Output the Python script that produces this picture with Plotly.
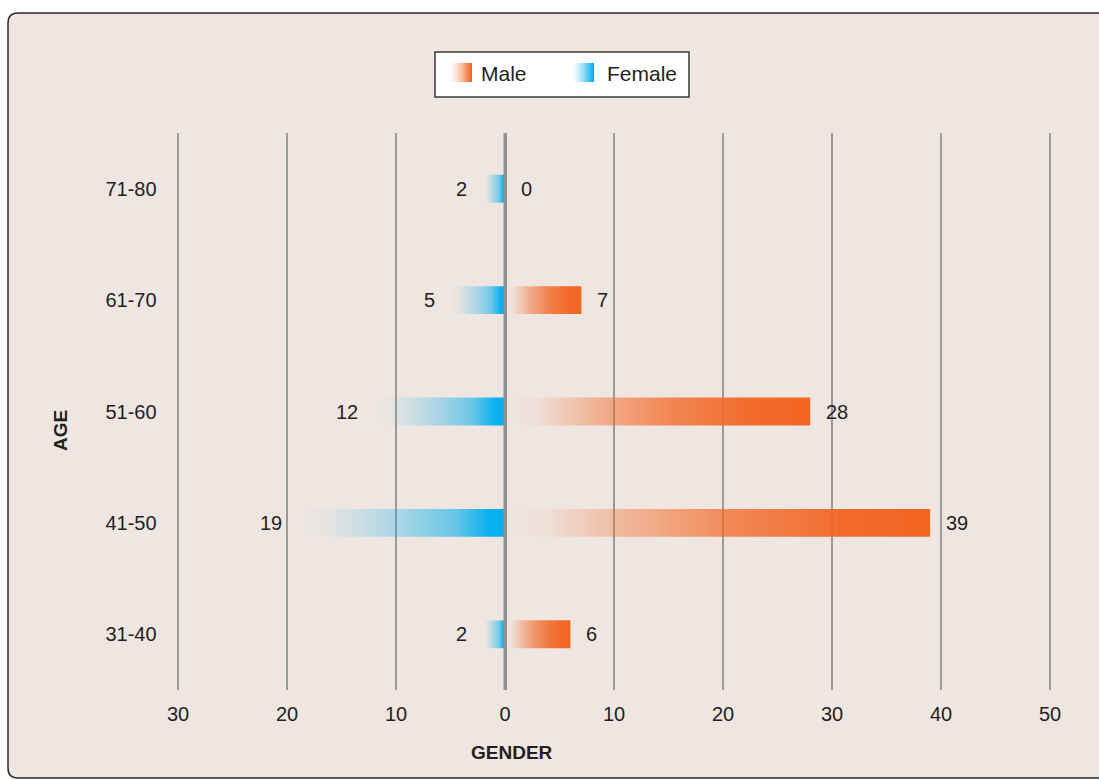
import plotly.graph_objects as go

categories = ["31-40", "41-50", "51-60", "61-70", "71-80"]
male = [6, 39, 28, 7, 0]
female = [2, 19, 12, 5, 2]
tick_vals = [-30, -20, -10, 0, 10, 20, 30, 40, 50]
tick_text = ["30", "20", "10", "0", "10", "20", "30", "40", "50"]

ORANGE = "242,101,34"
BLUE = "0,174,239"
BG = "#EFE6E1"
TXT = "#231f20"
FONT = "Liberation Sans, Arial, sans-serif"
FW, FH = 1099, 780

# plot area pixel geometry (-30 at L, 50 at R)
L, R, T, B = 178, 1050, 133, 690
XMIN, XMAX, PAD = -30, 50, 0.5
UNIT = (R - L) / (XMAX - XMIN)
HALF = 0.125

def PX(x):
    return x / FW
def PY(y):
    return 1 - y / FH

male_scale = [[0, f"rgba({ORANGE},0)"], [0.1, f"rgba({ORANGE},0.05)"], [0.3, f"rgba({ORANGE},0.4)"],
              [0.55, f"rgba({ORANGE},0.75)"], [0.8, f"rgba({ORANGE},0.95)"], [1, f"rgba({ORANGE},1)"]]
female_scale = [[0, f"rgba({BLUE},0)"], [0.15, f"rgba({BLUE},0.04)"], [0.5, f"rgba({BLUE},0.3)"],
                [0.75, f"rgba({BLUE},0.55)"], [0.92, f"rgba({BLUE},0.95)"], [1, f"rgba({BLUE},1)"]]

fig = go.Figure()

def add_bar(i, v, scale, sign):
    x0, x1 = 0, sign * v
    fig.add_trace(go.Scatter(
        x=[x0, x1, x1, x0, x0],
        y=[i - HALF, i - HALF, i + HALF, i + HALF, i - HALF],
        mode="lines", line=dict(width=0), fill="toself",
        fillgradient=dict(type="horizontal", colorscale=scale),
        showlegend=False, hoverinfo="skip",
    ))

for i, v in enumerate(male):
    if v > 0:
        add_bar(i, v, male_scale, 1)
for i, v in enumerate(female):
    if v > 0:
        add_bar(i, v, female_scale, -1)

annotations = []
for i, v in enumerate(male):
    annotations.append(dict(x=v, y=i, xref="x", yref="y", text=str(v), showarrow=False,
                            xanchor="left", yanchor="middle", xshift=14,
                            font=dict(size=20, color=TXT)))
for i, v in enumerate(female):
    annotations.append(dict(x=-v, y=i, xref="x", yref="y", text=str(v), showarrow=False,
                            xanchor="right", yanchor="middle", xshift=-14,
                            font=dict(size=20, color=TXT)))
annotations.append(dict(x=PX(60), y=PY(431), xref="paper", yref="paper", text="<b>AGE</b>",
                        textangle=-90, showarrow=False, xanchor="center", yanchor="middle",
                        font=dict(size=19, color=TXT)))
annotations.append(dict(x=PX(512), y=PY(752), xref="paper", yref="paper", text="<b>GENDER</b>",
                        showarrow=False, xanchor="center", yanchor="middle",
                        font=dict(size=19, color=TXT)))
annotations.append(dict(x=PX(479), y=PY(73), xref="paper", yref="paper", text="Male",
                        showarrow=False, xanchor="left", yanchor="middle",
                        font=dict(size=21, color=TXT)))
annotations.append(dict(x=PX(605), y=PY(73), xref="paper", yref="paper", text="Female",
                        showarrow=False, xanchor="left", yanchor="middle",
                        font=dict(size=21, color=TXT)))

# rounded border panel in paper coords
x0, x1, y0, y1, r = 8, 1112, 13, 778, 10
pts = lambda x, y: f"{PX(x)},{PY(y)}"
path = (f"M {pts(x0+r, y0)} L {pts(x1-r, y0)} Q {pts(x1, y0)} {pts(x1, y0+r)} L {pts(x1, y1-r)} "
        f"Q {pts(x1, y1)} {pts(x1-r, y1)} L {pts(x0+r, y1)} Q {pts(x0, y1)} {pts(x0, y1-r)} "
        f"L {pts(x0, y0+r)} Q {pts(x0, y0)} {pts(x0+r, y0)} Z")

shapes = [
    dict(type="path", path=path, xref="paper", yref="paper", layer="below",
         fillcolor=BG, line=dict(color="#2b2b2b", width=1.5)),
    dict(type="rect", x0=PX(435), x1=PX(689), y0=PY(52), y1=PY(97), xref="paper", yref="paper",
         layer="below", fillcolor="white", line=dict(color="#3a3a3a", width=1.5)),
    # zero axis line drawn over the bars
    dict(type="line", x0=0, x1=0, y0=0, y1=1, xref="x", yref="y domain", layer="above",
         line=dict(color="#909090", width=3)),
]

# legend swatches: thin slices with rising opacity
def swatch(sx0, sx1, sy0, sy1, rgb):
    n = sx1 - sx0
    for k in range(n):
        a = ((k + 1) / n) ** 1.3
        shapes.append(dict(type="rect", x0=PX(sx0 + k), x1=PX(sx0 + k + 1), y0=PY(sy0), y1=PY(sy1),
                           xref="paper", yref="paper", layer="below",
                           fillcolor=f"rgba({rgb},{a:.3f})", line=dict(width=0)))

swatch(451, 472, 63, 82, ORANGE)
swatch(573, 594, 63, 82, BLUE)

fig.update_layout(
    width=FW, height=FH, autosize=False,
    margin=dict(l=0, r=0, t=0, b=0, pad=0, autoexpand=False),
    paper_bgcolor="white", plot_bgcolor="rgba(0,0,0,0)",
    font=dict(family=FONT, size=20, color=TXT),
    shapes=shapes,
    annotations=annotations,
    showlegend=False,
    xaxis=dict(domain=[(L - PAD * UNIT) / FW, (R + PAD * UNIT) / FW], anchor="y", automargin=False,
               range=[XMIN - PAD, XMAX + PAD], tickvals=tick_vals, ticktext=tick_text,
               showgrid=True, gridcolor="#9a9a9a", gridwidth=2,
               zeroline=True, zerolinecolor="#909090", zerolinewidth=3,
               showline=False, ticks="", ticklabelstandoff=10, fixedrange=True,
               tickfont=dict(size=20, color=TXT)),
    yaxis=dict(domain=[1 - B / FH, 1 - T / FH], anchor="x", automargin=False,
               range=[-0.5, 4.5], tickvals=list(range(len(categories))), ticktext=categories,
               showgrid=False, zeroline=False, showline=False, ticks="",
               ticklabelstandoff=round(20 - PAD * UNIT), fixedrange=True,
               tickfont=dict(size=20, color=TXT)),
)

fig.write_html("out.html")
